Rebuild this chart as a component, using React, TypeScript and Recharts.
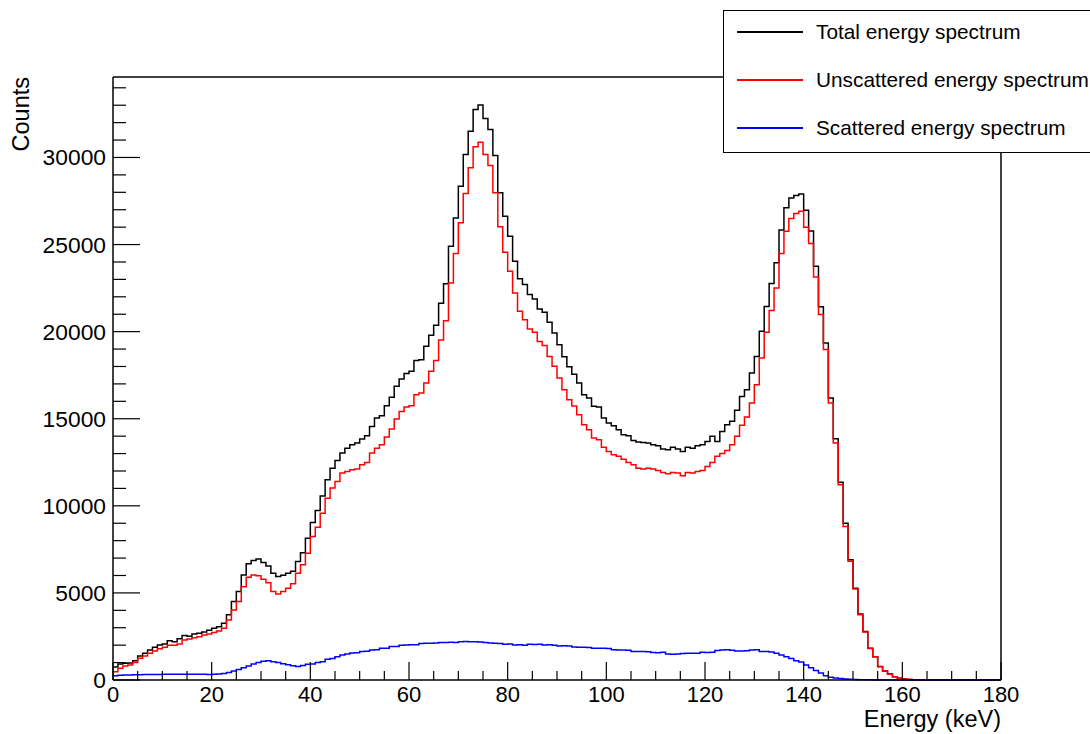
import { LineChart, Line, XAxis, YAxis, ReferenceLine, Legend } from 'recharts';

// 1 keV bins, lower edges 0..179
const TOTAL = [
  750, 920, 960, 970, 1110, 1380, 1530, 1720, 1880, 2010,
  2070, 2260, 2200, 2370, 2550, 2510, 2640, 2680, 2760, 2850,
  2970, 3060, 3260, 3740, 4500, 5080, 6030, 6670, 6860, 6940,
  6740, 6550, 6130, 5940, 6010, 6130, 6250, 6800, 7300, 8140,
  9040, 9730, 10570, 11490, 12160, 12600, 13030, 13310, 13500, 13600,
  13830, 14020, 14560, 15040, 15170, 15750, 16240, 16860, 17280, 17590,
  17720, 18350, 18390, 19160, 19800, 20370, 21630, 22750, 24900, 26530,
  28350, 30170, 31510, 32760, 33010, 32240, 31610, 30110, 27970, 26630,
  25480, 24040, 23030, 22700, 22130, 21880, 21300, 21110, 20540, 19920,
  19250, 18560, 17980, 17560, 17050, 16380, 16190, 15710, 15670, 15040,
  14750, 14600, 14370, 14080, 14020, 13750, 13660, 13640, 13600, 13510,
  13450, 13260, 13220, 13370, 13260, 13120, 13370, 13310, 13450, 13510,
  13700, 13990, 13700, 14270, 14660, 14850, 15480, 16280, 16670, 17630,
  18580, 20020, 21440, 22760, 23950, 25830, 27110, 27680, 27820, 27900,
  26970, 25780, 23750, 21430, 19350, 16190, 13850, 11360, 9000, 6900,
  5270, 3790, 2780, 1820, 1340, 770, 520, 340, 190, 100,
  60, 30, 15, 8, 4, 3, 2, 1, 1, 0,
  0, 0, 0, 0, 0, 0, 0, 0, 0, 0,
];

const UNSCATTERED = [
  480, 670, 800, 860, 1000, 1250, 1380, 1530, 1670, 1800,
  1880, 1990, 1990, 2070, 2300, 2360, 2430, 2490, 2590, 2640,
  2720, 2820, 2970, 3450, 4020, 4500, 5360, 5900, 6030, 5980,
  5790, 5590, 5080, 4940, 5080, 5270, 5520, 6130, 6610, 7280,
  8240, 8770, 9580, 10440, 11020, 11400, 11880, 11970, 12070, 12110,
  12360, 12490, 13030, 13310, 13500, 13950, 14410, 14980, 15420, 15670,
  15750, 16380, 16480, 17050, 17720, 18350, 19520, 20620, 22800, 24480,
  26250, 27930, 29410, 30610, 30880, 30170, 29540, 27970, 26020, 24560,
  23470, 22220, 21170, 20690, 20150, 19960, 19440, 19200, 18580, 18010,
  17340, 16670, 16090, 15730, 15230, 14660, 14370, 13890, 13790, 13360,
  13120, 12930, 12840, 12680, 12490, 12360, 12160, 12110, 12160, 12110,
  12030, 11920, 11840, 11920, 11880, 11720, 11920, 11880, 11970, 12030,
  12260, 12490, 12840, 13000, 13170, 13500, 14000, 14630, 15100, 15900,
  16950, 18490, 19960, 21210, 22510, 24480, 25770, 26490, 26780, 26910,
  26000, 25060, 23140, 20980, 18970, 15900, 13600, 11210, 8810, 6820,
  5220, 3740, 2760, 1810, 1330, 765, 515, 335, 188, 100,
  60, 30, 15, 8, 4, 3, 2, 1, 1, 0,
  0, 0, 0, 0, 0, 0, 0, 0, 0, 0,
];

const SCATTERED = [
  250, 270, 280, 290, 300, 300, 310, 310, 320, 320,
  330, 330, 330, 330, 330, 330, 330, 330, 330, 320,
  330, 340, 380, 430, 520, 600, 700, 800, 920, 1000,
  1080, 1110, 1050, 1000, 930, 880, 820, 780, 830, 900,
  920, 1000, 1050, 1190, 1240, 1340, 1440, 1490, 1550, 1570,
  1630, 1650, 1720, 1740, 1820, 1830, 1920, 1930, 2000, 2010,
  2020, 2030, 2100, 2110, 2110, 2120, 2160, 2150, 2170, 2160,
  2200, 2210, 2200, 2190, 2180, 2150, 2120, 2110, 2100, 2050,
  2060, 2010, 2020, 2000, 2050, 2040, 2050, 2010, 2020, 2000,
  1950, 1960, 1950, 1890, 1880, 1880, 1870, 1830, 1820, 1820,
  1810, 1730, 1720, 1720, 1710, 1640, 1630, 1630, 1620, 1580,
  1570, 1600, 1490, 1480, 1490, 1520, 1530, 1530, 1540, 1590,
  1580, 1600, 1700, 1720, 1730, 1710, 1660, 1670, 1680, 1720,
  1730, 1640, 1630, 1610, 1530, 1440, 1340, 1240, 1110, 1030,
  860, 700, 550, 400, 250, 160, 110, 80, 60, 40,
  30, 20, 12, 8, 5, 3, 2, 1, 0, 0,
  0, 0, 0, 0, 0, 0, 0, 0, 0, 0,
  0, 0, 0, 0, 0, 0, 0, 0, 0, 0,
];

const X_TICKS = [0, 5, 10, 15, 20, 25, 30, 35, 40, 45, 50, 55, 60, 65, 70, 75, 80, 85, 90,
  95, 100, 105, 110, 115, 120, 125, 130, 135, 140, 145, 150, 155, 160, 165, 170, 175, 180];
const X_LABELS = [0, 20, 40, 60, 80, 100, 120, 140, 160, 180];
const Y_TICKS = [0, 1000, 2000, 3000, 4000, 5000, 6000, 7000, 8000, 9000, 10000, 11000, 12000,
  13000, 14000, 15000, 16000, 17000, 18000, 19000, 20000, 21000, 22000, 23000, 24000, 25000,
  26000, 27000, 28000, 29000, 30000, 31000, 32000, 33000, 34000];
const Y_LABELS = [0, 5000, 10000, 15000, 20000, 25000, 30000];
const Y_MAX = 34620;

const SERIES = [
  { key: 'total', name: 'Total energy spectrum', color: '#000000' },
  { key: 'unscattered', name: 'Unscattered energy spectrum', color: '#ff0000' },
  { key: 'scattered', name: 'Scattered energy spectrum', color: '#0000ff' },
];

const FONT = '"Liberation Sans", Arial, Helvetica, sans-serif';

const data = TOTAL.map((t, i) => ({
  e: i,
  total: t,
  unscattered: UNSCATTERED[i],
  scattered: SCATTERED[i],
}));
// close the last bin at 180
data.push({ ...data[data.length - 1], e: 180 });

function XTick(props: any) {
  const { x, y, payload } = props;
  const major = X_LABELS.includes(payload.value);
  return (
    <g>
      <line x1={x} x2={x} y1={y} y2={y - (major ? 18 : 9)} stroke="#000" strokeWidth={1.2} />
      {major && (
        <text x={x} y={y + 22} textAnchor="middle" fontSize={22} fontFamily={FONT} fill="#000">
          {payload.value}
        </text>
      )}
    </g>
  );
}

function YTick(props: any) {
  const { x, y, payload } = props;
  const major = Y_LABELS.includes(payload.value);
  return (
    <g>
      <line x1={x} x2={x + (major ? 27 : 13)} y1={y} y2={y} stroke="#000" strokeWidth={1.2} />
      {major && (
        <text x={x - 7} y={y + 8} textAnchor="end" fontSize={22.8} fontFamily={FONT} fill="#000">
          {payload.value}
        </text>
      )}
    </g>
  );
}

function LegendBox() {
  return (
    <div
      style={{
        position: 'relative',
        width: 367,
        height: 143,
        boxSizing: 'border-box',
        borderTop: '1.5px solid #000',
        borderLeft: '1.5px solid #000',
        borderBottom: '1.5px solid #000',
        background: '#fff',
        fontFamily: FONT,
        fontSize: 20.8,
        color: '#000',
      }}
    >
      {SERIES.map((s, i) => (
        <div key={s.key} style={{ position: 'absolute', left: 0, top: 8 + i * 48, height: 26, width: 367 }}>
          <div style={{ position: 'absolute', left: 13, top: 12, width: 66, height: 1.5, background: s.color }} />
          <div style={{ position: 'absolute', left: 92, top: 0, lineHeight: '26px', whiteSpace: 'nowrap' }}>
            {s.name}
          </div>
        </div>
      ))}
    </div>
  );
}

export default function App() {
  return (
    <div
      style={{ position: 'absolute', left: 0, top: 0, width: 1090, height: 734, background: '#fff', overflow: 'hidden' }}
    >
      <LineChart width={1090} height={734} data={data} margin={{ top: 77, right: 89, bottom: 24, left: 53 }}>
        <XAxis
          dataKey="e"
          type="number"
          domain={[0, 180]}
          ticks={X_TICKS}
          interval={0}
          height={30}
          tickSize={0}
          tickMargin={0}
          tick={<XTick />}
          axisLine={{ stroke: '#000', strokeWidth: 1.5 }}
        />
        <YAxis
          type="number"
          domain={[0, Y_MAX]}
          ticks={Y_TICKS}
          interval={0}
          width={60}
          tickSize={0}
          tickMargin={0}
          tick={<YTick />}
          axisLine={{ stroke: '#000', strokeWidth: 1.5 }}
        />
        <ReferenceLine y={Y_MAX} stroke="#000" strokeWidth={1.5} />
        <ReferenceLine x={180} stroke="#000" strokeWidth={1.5} />
        {SERIES.map((s) => (
          <Line
            key={s.key}
            type="stepAfter"
            dataKey={s.key}
            name={s.name}
            stroke={s.color}
            strokeWidth={1.5}
            dot={false}
            activeDot={false}
            isAnimationActive={false}
          />
        ))}
        <Legend
          layout="vertical"
          align="center"
          verticalAlign="middle"
          content={() => <LegendBox />}
          wrapperStyle={{ position: 'absolute', left: 723, top: 10, width: 367, height: 143 }}
        />
      </LineChart>
      <div
        style={{
          position: 'absolute',
          right: 1090 - 1001,
          top: 705,
          fontFamily: FONT,
          fontSize: 23.5,
          lineHeight: '28px',
          whiteSpace: 'nowrap',
        }}
      >
        Energy (keV)
      </div>
      <div
        style={{
          position: 'absolute',
          left: 10,
          top: 77,
          fontFamily: FONT,
          fontSize: 23.5,
          lineHeight: '23px',
          whiteSpace: 'nowrap',
          transformOrigin: '0 0',
          transform: 'rotate(-90deg) translateX(-100%)',
        }}
      >
        Counts
      </div>
    </div>
  );
}
